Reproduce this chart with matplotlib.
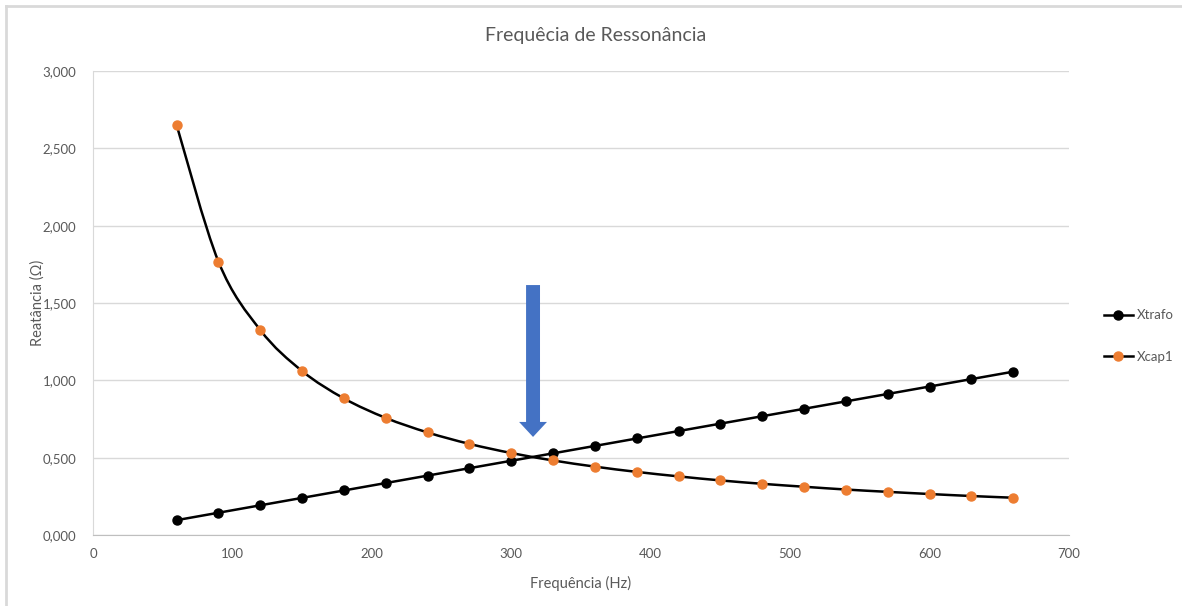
import numpy as np
import matplotlib.pyplot as plt
from matplotlib.path import Path
from matplotlib.patches import PathPatch, FancyArrow
from matplotlib.lines import Line2D

plt.rcParams['font.family'] = ['Lato', 'DejaVu Sans']

freq = [60, 90, 120, 150, 180, 210, 240, 270, 300, 330, 360,
        390, 420, 450, 480, 510, 540, 570, 600, 630, 660]
xtrafo = [0.096, 0.144, 0.192, 0.240, 0.288, 0.336, 0.384, 0.432, 0.480, 0.528, 0.576,
          0.624, 0.672, 0.720, 0.768, 0.816, 0.864, 0.912, 0.960, 1.008, 1.056]
xcap1 = [2.650, 1.767, 1.325, 1.060, 0.883, 0.757, 0.663, 0.589, 0.530, 0.482, 0.442,
         0.408, 0.379, 0.353, 0.331, 0.312, 0.294, 0.279, 0.265, 0.252, 0.241]

title = 'Frequêcia de Ressonância'
xlabel = 'Frequência (Hz)'
ylabel = 'Reatância (Ω)'
txt = '#595959'
orange = '#ED7D31'


def smooth_path(x, y):
    # Excel-like smoothed line: Catmull-Rom converted to cubic Bezier segments
    x = np.asarray(x, float)
    y = np.asarray(y, float)
    px = np.concatenate([[x[0]], x, [x[-1]]])
    py = np.concatenate([[y[0]], y, [y[-1]]])
    verts = [(x[0], y[0])]
    codes = [Path.MOVETO]
    for i in range(1, len(px) - 2):
        c1 = (px[i] + (px[i + 1] - px[i - 1]) / 6, py[i] + (py[i + 1] - py[i - 1]) / 6)
        c2 = (px[i + 1] - (px[i + 2] - px[i]) / 6, py[i + 1] - (py[i + 2] - py[i]) / 6)
        verts += [c1, c2, (px[i + 1], py[i + 1])]
        codes += [Path.CURVE4] * 3
    return Path(verts, codes)


fig = plt.figure(figsize=(11.82, 6.06), dpi=100)
ax = fig.add_axes([93 / 1182, 1 - 535 / 606, 976 / 1182, 464 / 606])

ax.set_xlim(0, 700)
ax.set_ylim(0, 3)
ax.set_yticks(np.arange(0, 3.01, 0.5))
ax.set_yticklabels([f'{v:.3f}'.replace('.', ',') for v in np.arange(0, 3.01, 0.5)])
ax.set_xticks(range(0, 701, 100))
ax.grid(axis='y', color='#d9d9d9', lw=1)
ax.set_axisbelow(True)
for s in ['top', 'right']:
    ax.spines[s].set_visible(False)
ax.spines['left'].set_color('#d9d9d9')
ax.spines['bottom'].set_color('#bfbfbf')
ax.tick_params(length=0, labelsize=9.5, colors=txt, pad=12)
ax.tick_params(axis='x', pad=9)

# Xtrafo
ax.plot(freq, xtrafo, color='black', lw=1.8, marker='o', ms=6.5, zorder=3)
# Xcap1: smoothed black line, orange markers
ax.add_patch(PathPatch(smooth_path(freq, xcap1), fill=False, edgecolor='black', lw=1.8, zorder=3))
ax.plot(freq, xcap1, ls='none', marker='o', ms=6.5, color=orange, zorder=4)

# arrow marking the resonance
ax.add_patch(FancyArrow(315.6, 1.616, 0, -0.982, width=10, head_width=20,
                        head_length=0.097, length_includes_head=True,
                        color='#4472C4', lw=0, zorder=5))

ax.set_xlabel(xlabel, fontsize=10.5, color=txt, labelpad=12)
ax.set_ylabel(ylabel, fontsize=10.5, color=txt)
ax.yaxis.set_label_coords((45 - 93) / 976, 0.5)
fig.text(596 / 1182, 1 - 35 / 606, title, ha='center', va='center', fontsize=14, color=txt)

handles = [Line2D([], [], color='black', lw=1.8, marker='o', ms=6.5, label='Xtrafo'),
           Line2D([], [], color='black', lw=1.8, marker='o', ms=6.5, mfc=orange, mec=orange, label='Xcap1')]
fig.legend(handles=handles, loc='center left', bbox_to_anchor=(1092 / 1182, 1 - 336 / 606),
           frameon=False, fontsize=9.5, labelcolor=txt, labelspacing=2.2,
           handlelength=2.2, handletextpad=0.3)

# thin frame seen on the top and left edges
fig.add_artist(Line2D([6 / 1182, 1], [1 - 6 / 606, 1 - 6 / 606], color='#d9d9d9', lw=2))
fig.add_artist(Line2D([6 / 1182, 6 / 1182], [0, 1 - 6 / 606], color='#d9d9d9', lw=2))

fig.savefig('out.png', dpi=100)
